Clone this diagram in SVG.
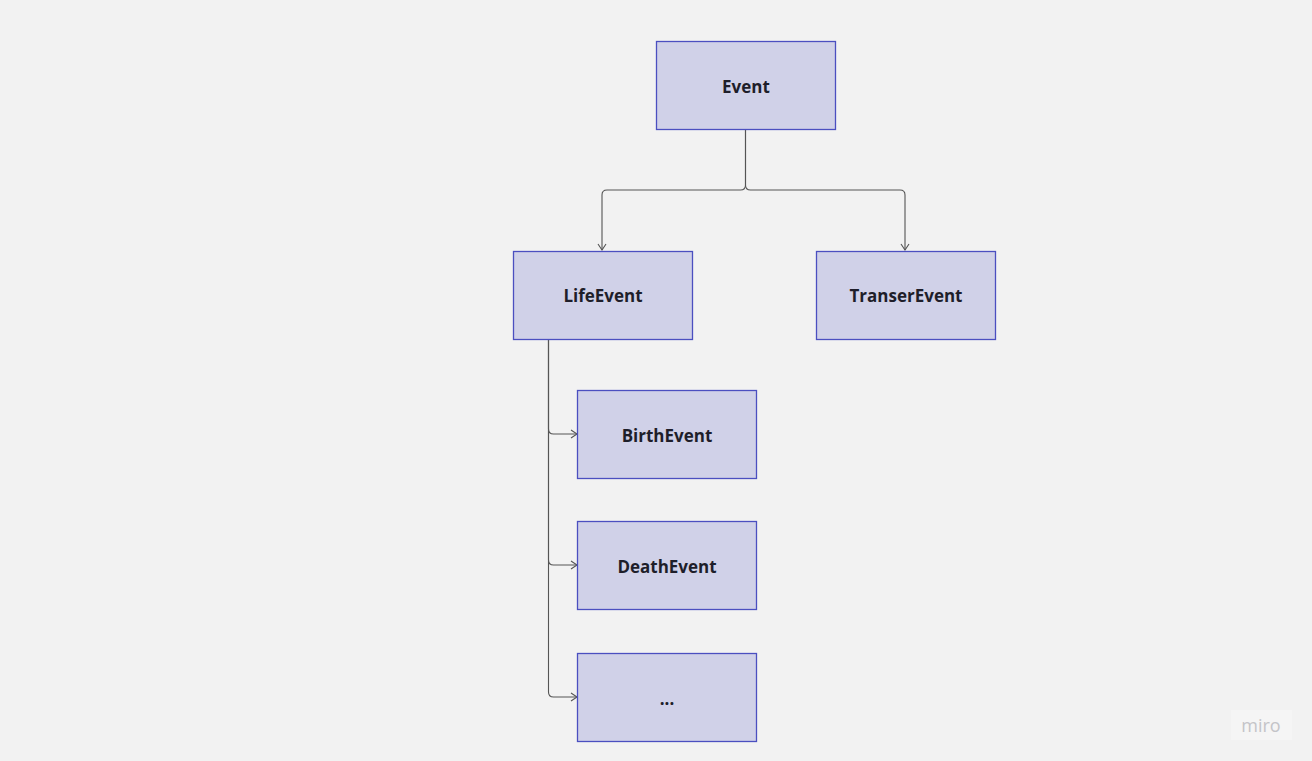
<svg xmlns="http://www.w3.org/2000/svg" width="1312" height="761" viewBox="0 0 1312 761">
<style>
.box{fill:#d0d1e8;stroke:#4b4fc0;stroke-width:1.3}
.lbl{font-family:"Open Sans",sans-serif;font-weight:bold;font-size:17px;fill:#1e1e2a;text-anchor:middle;dominant-baseline:central}
.c{fill:none;stroke:#555;stroke-width:1.1}
</style>
<defs>
<marker id="arr" markerWidth="10" markerHeight="10" refX="8" refY="5" orient="auto" markerUnits="userSpaceOnUse">
<path d="M2,1 L8,5 L2,9" fill="none" stroke="#555" stroke-width="1.1"/>
</marker>
</defs>
<rect width="1312" height="761" fill="#f2f2f2"/>
<g id="connectors">
<path class="c" d="M745.5,130 V185 Q745.5,190 740.5,190 H607 Q602,190 602,195 V250" marker-end="url(#arr)"/>
<path class="c" d="M745.5,130 V185 Q745.5,190 750.5,190 H900 Q905,190 905,195 V250" marker-end="url(#arr)"/>
<path class="c" d="M548.5,340 V429 Q548.5,434 553.5,434 H577" marker-end="url(#arr)"/>
<path class="c" d="M548.5,340 V560 Q548.5,565 553.5,565 H577" marker-end="url(#arr)"/>
<path class="c" d="M548.5,340 V692 Q548.5,697 553.5,697 H577" marker-end="url(#arr)"/>
</g>
<g id="node-event"><rect class="box" x="656.5" y="41.5" width="179" height="88"/><text class="lbl" x="746" y="86">Event</text></g>
<g id="node-lifeevent"><rect class="box" x="513.5" y="251.5" width="179" height="88"/><text class="lbl" x="603" y="295">LifeEvent</text></g>
<g id="node-transerevent"><rect class="box" x="816.5" y="251.5" width="179" height="88"/><text class="lbl" x="906" y="295">TranserEvent</text></g>
<g id="node-birthevent"><rect class="box" x="577.5" y="390.5" width="179" height="88"/><text class="lbl" x="667" y="435">BirthEvent</text></g>
<g id="node-deathevent"><rect class="box" x="577.5" y="521.5" width="179" height="88"/><text class="lbl" x="667" y="566">DeathEvent</text></g>
<g id="node-more"><rect class="box" x="577.5" y="653.5" width="179" height="88"/><text class="lbl" x="667" y="698">...</text></g>
<g id="miro-logo"><rect x="1231" y="710" width="61" height="30" fill="#f5f5f5"/><text x="1261" y="725" font-family="'Open Sans',sans-serif" font-size="18" fill="#c4c4c8" text-anchor="middle" dominant-baseline="central">miro</text></g>
</svg>
